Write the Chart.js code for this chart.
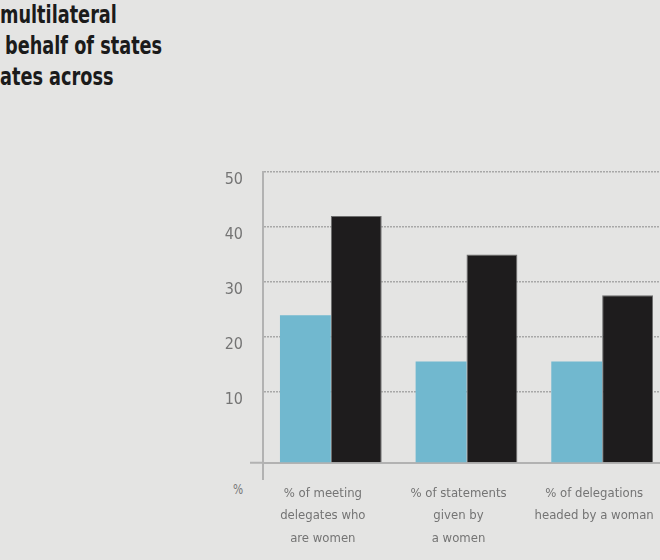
<!DOCTYPE html>
<html>
<head>
<meta charset="utf-8">
<script src="https://cdn.jsdelivr.net/npm/chart.js@4"></script>
<style>
  html, body { margin: 0; padding: 0; background: #e4e4e3; overflow: hidden; }
  body { width: 660px; height: 560px; position: relative; }
  .title { position: absolute; left: 0; font: bold 24px "DejaVu Sans Condensed", sans-serif; color: #1b1b1b; white-space: nowrap; line-height: 24px; transform: scaleX(0.82); transform-origin: left top; }
  .pct { position: absolute; left: 233px; top: 481px; font: 14px "DejaVu Sans Condensed", sans-serif; color: #777; transform: scaleX(0.85); transform-origin: left top; }
  #wrap { position: absolute; left: 0; top: 0; width: 700px; height: 560px; }
</style>
</head>
<body>
<div class="title" style="top:3px">multilateral</div>
<div class="title" style="top:34px;left:5px">behalf of states</div>
<div class="title" style="top:65px">ates across</div>
<span class="pct">%</span>
<div id="wrap"><canvas id="myChart"></canvas></div>
<script>
// DATA
let categories = [
  ['% of meeting', 'delegates who', 'are women'],
  ['% of statements', 'given by', 'a women'],
  ['% of delegations', 'headed by a woman']
];
let blueValues = [24, 15.6, 15.6];
let blackValues = [42, 35, 27.6];
let yTicks = [10, 20, 30, 40, 50];

// the baseline sits a bit under the zero line in the original
let yMin = -2.85;
let axisGray = '#b2b2b2';
let tickFont = { family: '"DejaVu Sans Condensed", sans-serif', size: 13, lineHeight: '22.5px' };

let ctx = document.getElementById('myChart').getContext('2d');
let myChart = new Chart(ctx, {
  type: 'bar',
  data: {
    labels: categories,
    datasets: [{
      label: 'Series 1',
      data: blueValues,
      backgroundColor: '#71b8cf',
      borderWidth: 0,
      base: yMin
    }, {
      label: 'Series 2',
      data: blackValues,
      backgroundColor: '#1e1c1d',
      borderColor: '#6e6e6e',
      borderWidth: 1,
      base: yMin
    }]
  },
  options: {
    responsive: true,
    maintainAspectRatio: false,
    animation: false,
    layout: { padding: { left: 200, right: 30, top: 172, bottom: 0 } },
    plugins: { legend: { display: false }, tooltip: { enabled: false } },
    datasets: { bar: { categoryPercentage: 0.75, barPercentage: 1 } },
    scales: {
      x: {
        afterFit: (scale) => { scale.height = 97; },
        border: { color: axisGray, width: 2 },
        grid: {
          drawOnChartArea: false,
          tickLength: 17,
          lineWidth: 2,
          color: (c) => c.index === 0 ? axisGray : 'transparent'
        },
        ticks: {
          color: '#747474',
          font: tickFont,
          autoSkip: false,
          maxRotation: 0,
          padding: 2,
          labelOffset: -8
        }
      },
      y: {
        min: yMin,
        max: 50,
        afterFit: (scale) => { scale.width = 63; },
        afterBuildTicks: (scale) => {
          scale.ticks = [yMin].concat(yTicks).map(v => ({ value: v }));
        },
        border: { color: axisGray, width: 2, dash: [2, 1] },
        grid: {
          lineWidth: 1.5,
          tickLength: 13,
          tickWidth: 2,
          color: (c) => c.tick && c.tick.value > 0 ? '#a8a8a8' : 'transparent',
          tickColor: (c) => c.tick && c.tick.value > 0 ? 'transparent' : axisGray
        },
        ticks: {
          color: '#747474',
          font: { family: tickFont.family, size: 16 },
          padding: 7,
          labelOffset: 8,
          callback: (v) => v > 0 ? v : ''
        }
      }
    }
  }
});
</script>
</body>
</html>
